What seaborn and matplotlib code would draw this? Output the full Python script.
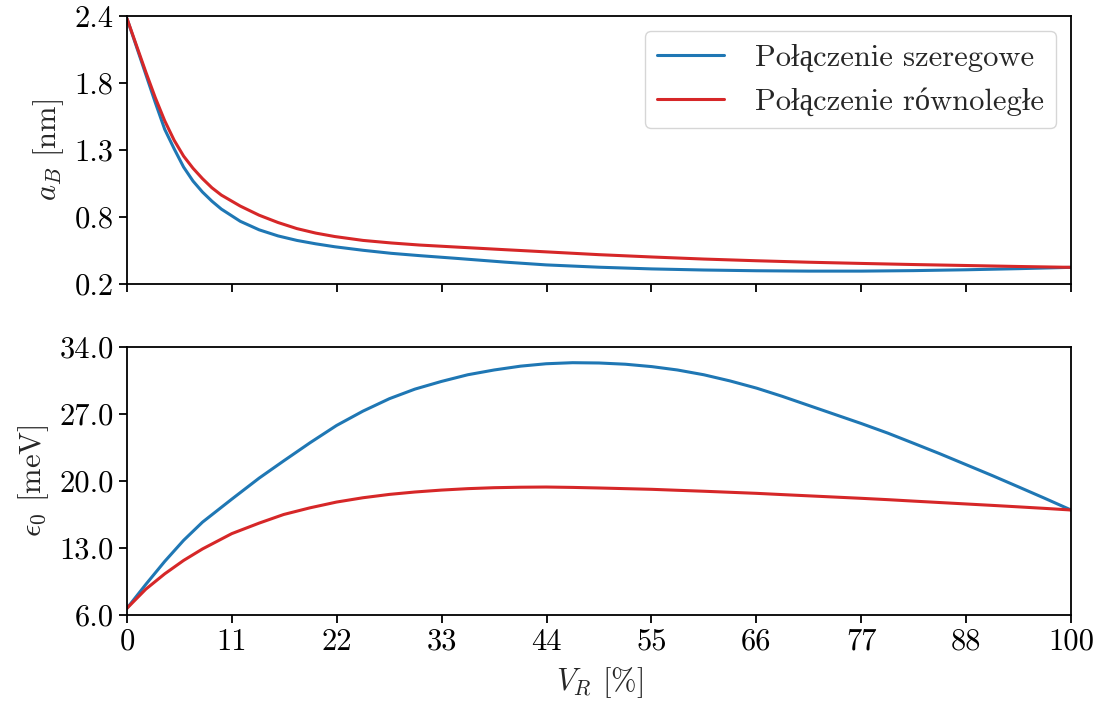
import numpy as np
import pandas as pd
import matplotlib
matplotlib.use("Agg")
import matplotlib.pyplot as plt
import seaborn as sns

# ---- data ----
x_top = [0, 1, 2, 3, 4, 5, 6, 7, 8, 9, 10, 12, 14, 16, 18, 20, 22, 25, 28, 31, 35,
         40, 44.4, 50, 55.6, 61.1, 66.7, 72.2, 77.8, 83.3, 88.9, 94.4, 100]
aB_series = [2.38, 2.15, 1.92, 1.69, 1.47, 1.31, 1.16, 1.045, 0.955, 0.88, 0.815,
             0.715, 0.645, 0.595, 0.558, 0.530, 0.506, 0.477, 0.452, 0.433, 0.410,
             0.380, 0.357, 0.338, 0.324, 0.315, 0.309, 0.306, 0.306, 0.310, 0.317,
             0.326, 0.337]
aB_parallel = [2.38, 2.16, 1.94, 1.73, 1.54, 1.38, 1.25, 1.15, 1.065, 0.99, 0.93,
               0.84, 0.765, 0.705, 0.655, 0.618, 0.590, 0.558, 0.537, 0.520, 0.503,
               0.482, 0.464, 0.441, 0.422, 0.405, 0.391, 0.379, 0.369, 0.360, 0.352,
               0.344, 0.337]

x_bot = [0, 2, 4, 6, 8, 11.1, 14, 16.6, 19.4, 22.2, 25, 27.8, 30.5, 33.3, 36.1, 38.9,
         41.7, 44.4, 47.2, 50, 52.8, 55.6, 58.3, 61.1, 63.9, 66.7, 69.4, 72.2, 75,
         77.8, 80.6, 83.3, 86.1, 88.9, 91.7, 94.4, 97.2, 100]
eps_series = [6.7, 9.2, 11.6, 13.8, 15.7, 18.1, 20.3, 22.1, 24.0, 25.8, 27.3, 28.6,
              29.6, 30.4, 31.1, 31.6, 32.0, 32.25, 32.36, 32.33, 32.2, 31.95, 31.6,
              31.1, 30.45, 29.7, 28.85, 27.9, 26.95, 26.0, 25.0, 23.95, 22.85, 21.7,
              20.55, 19.4, 18.2, 16.97]
eps_parallel = [6.7, 8.7, 10.3, 11.7, 12.9, 14.5, 15.6, 16.5, 17.2, 17.8, 18.25,
                18.6, 18.85, 19.05, 19.2, 19.3, 19.35, 19.37, 19.33, 19.27, 19.2,
                19.13, 19.03, 18.93, 18.82, 18.71, 18.58, 18.45, 18.32, 18.19, 18.05,
                17.9, 17.75, 17.6, 17.45, 17.3, 17.14, 16.97]

labels = ["Połączenie szeregowe", "Połączenie równoległe"]
colors = ["#1f77b4", "#d62728"]

x_ticks = list(np.linspace(0, 100, 10))
x_ticklabels = ["0", "11", "22", "33", "44", "55", "66", "77", "88", "100"]
top_ticks = list(np.linspace(0.2, 2.4, 5))
top_ticklabels = ["0.2", "0.8", "1.3", "1.8", "2.4"]
bot_ticks = list(np.linspace(6, 34, 5))
bot_ticklabels = ["6.0", "13.0", "20.0", "27.0", "34.0"]

# ---- style ----
sns.set_style("ticks")
plt.rcParams["font.family"] = ["cmr10", "Liberation Serif", "DejaVu Serif"]
plt.rcParams["mathtext.fontset"] = "cm"
plt.rcParams["axes.formatter.use_mathtext"] = True
plt.rcParams["axes.unicode_minus"] = False
plt.rcParams["axes.edgecolor"] = "black"
plt.rcParams["axes.linewidth"] = 1.3
plt.rcParams["xtick.color"] = "black"
plt.rcParams["ytick.color"] = "black"
plt.rcParams["xtick.major.size"] = 6
plt.rcParams["ytick.major.size"] = 6
plt.rcParams["xtick.major.width"] = 1.3
plt.rcParams["ytick.major.width"] = 1.3

fs = 22

df_top = pd.DataFrame({
    "x": x_top * 2,
    "y": aB_series + aB_parallel,
    "kind": [labels[0]] * len(x_top) + [labels[1]] * len(x_top),
})
df_bot = pd.DataFrame({
    "x": x_bot * 2,
    "y": eps_series + eps_parallel,
    "kind": [labels[0]] * len(x_bot) + [labels[1]] * len(x_bot),
})

fig, (ax1, ax2) = plt.subplots(2, 1, figsize=(11.03, 7.06), dpi=100, sharex=True)
fig.subplots_adjust(left=0.1151, right=0.971, top=0.9773, bottom=0.1289, hspace=0.235)

sns.lineplot(data=df_top, x="x", y="y", hue="kind", palette=colors, ax=ax1,
             linewidth=2.2, legend=True)
sns.lineplot(data=df_bot, x="x", y="y", hue="kind", palette=colors, ax=ax2,
             linewidth=2.2, legend=False)

ax1.set_xlim(0, 100)
ax1.set_ylim(0.2, 2.4)
ax2.set_ylim(6, 34)

ax1.set_yticks(top_ticks)
ax1.set_yticklabels(top_ticklabels, fontsize=fs)
ax2.set_yticks(bot_ticks)
ax2.set_yticklabels(bot_ticklabels, fontsize=fs)
ax2.set_xticks(x_ticks)
ax2.set_xticklabels(x_ticklabels, fontsize=fs)
ax1.tick_params(labelbottom=False)

ax1.set_xlabel("")
ax1.set_ylabel(r"$a_B$ [nm]", fontsize=fs, labelpad=6)
ax2.set_ylabel(r"$\epsilon_0$ [meV]", fontsize=fs, labelpad=6)
ax2.set_xlabel(r"$V_R$ [%]", fontsize=fs, labelpad=7)

leg = ax1.legend(loc="upper right", fontsize=fs, frameon=True, fancybox=True,
                 title=None, handlelength=2.2, handletextpad=1.0)
leg.get_frame().set_edgecolor("#cccccc")
leg.get_frame().set_linewidth(1.0)
for line in leg.get_lines():
    line.set_linewidth(2.2)

fig.savefig("out.png", dpi=100)
